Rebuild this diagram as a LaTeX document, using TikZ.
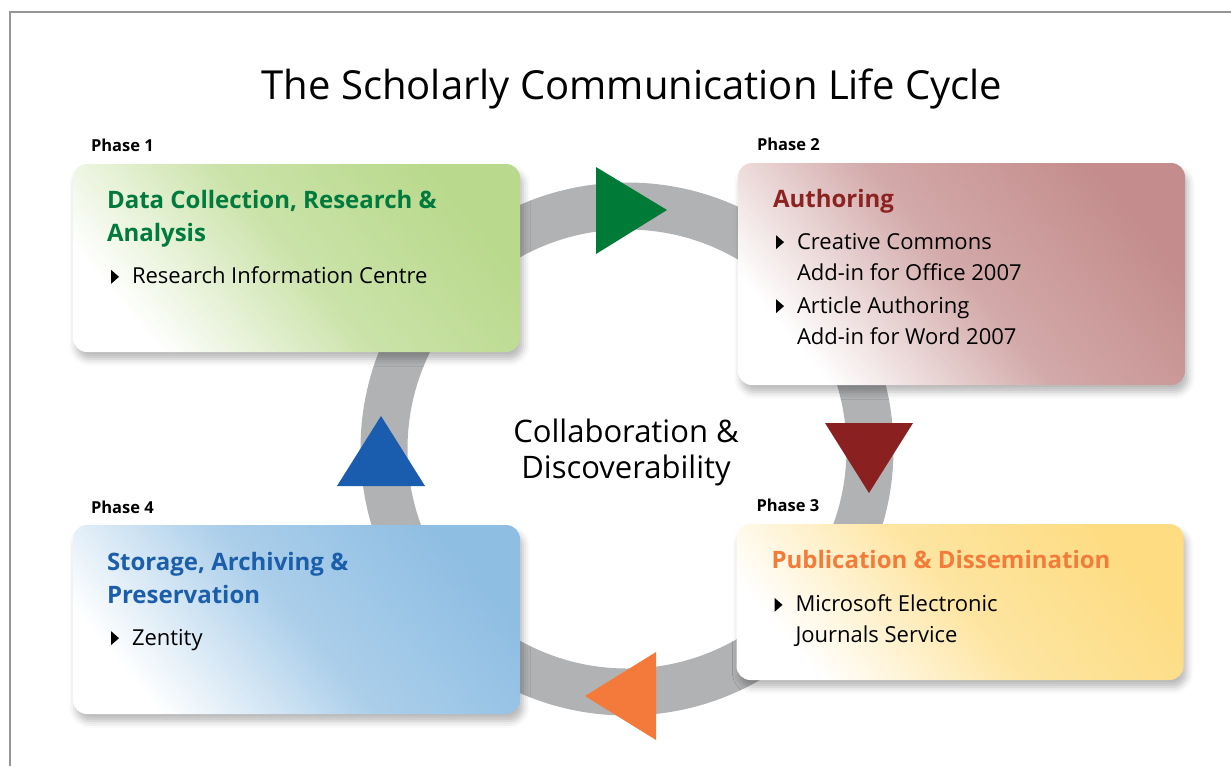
\documentclass[tikz,border=0pt]{standalone}
\usepackage{fontspec}
\setmainfont{Open Sans}
\usetikzlibrary{positioning,calc,shadows.blur}

\definecolor{boxgreen}{RGB}{185,217,140}
\definecolor{boxred}{RGB}{196,140,140}
\definecolor{boxyellow}{RGB}{253,220,130}
\definecolor{boxblue}{RGB}{143,190,227}
\definecolor{headgreen}{RGB}{0,122,61}
\definecolor{headred}{RGB}{140,35,35}
\definecolor{headorange}{RGB}{244,124,58}
\definecolor{headblue}{RGB}{27,94,170}
\definecolor{tipgreen}{RGB}{0,122,55}
\definecolor{tipred}{RGB}{139,32,32}
\definecolor{tiporange}{RGB}{244,122,60}
\definecolor{tipblue}{RGB}{26,92,173}
\definecolor{ringgray}{RGB}{177,178,180}
\definecolor{framegray}{RGB}{150,150,150}

\newsavebox\bulletbox
\sbox\bulletbox{\tikz\fill (0,0) -- (0,14pt) -- (8pt,7pt) -- cycle;}
\newcommand\itemmark{\usebox\bulletbox\hspace{13pt}}
\newcommand\itemgap{\hspace*{21pt}}

\tikzset{
  panel/.style={rounded corners=14pt, minimum width=447pt, inner sep=0pt,
    top color=white, bottom color=#1, middle color=#1!75, shading angle=130,
    blur shadow={shadow xshift=3pt, shadow yshift=-7pt,
      shadow blur radius=7pt, shadow opacity=28}},
  phase/.style={font=\bfseries\fontsize{16.5}{20}\selectfont, inner sep=0pt},
  head/.style={font=\bfseries\fontsize{24}{33}\selectfont, align=left, inner sep=0pt},
  items/.style={font=\fontsize{22}{31}\selectfont, align=left, inner sep=0pt},
  title/.style={font=\fontsize{40}{48}\selectfont},
  hubtext/.style={font=\fontsize{31}{36}\selectfont, align=center},
  ring/.style={draw=ringgray, line width=47pt},
  frame/.style={draw=framegray, line width=1.5pt}
}

\begin{document}
\begin{tikzpicture}[x=1pt,y=-1pt]
  \useasboundingbox (0,0) rectangle (1231,766);
  %% frame and title
  \draw[frame] (1231,12) -- (10,12) -- (10,766);
  \node[title] (title) at (632,89) {The Scholarly Communication Life Cycle};
  %% ring with its four arrowheads
  \coordinate (hub) at (627,449);
  \draw[ring] (hub) circle[radius=243pt];
  \fill[tipgreen]  (596,167) -- (667,210) -- (596,254) -- cycle;
  \fill[tipred]    (825,423) -- (913,423) -- (869,493) -- cycle;
  \fill[tiporange] (656,652) -- (656,740) -- (585,696) -- cycle;
  \fill[tipblue]   (337,486) -- (425,486) -- (381,416) -- cycle;
  \node[hubtext] (hubtext) at (626,452) {Collaboration \&\\Discoverability};
  %% phase 1
  \node[panel=boxgreen, minimum height=188pt] (collect) at (296.5,258) {};
  \node[phase, above right=12pt and 18pt of collect.north west] (ph1) {Phase 1};
  \node[head, text=headgreen, below right=26pt and 34pt of collect.north west] (h1)
    {Data Collection, Research \&\\Analysis};
  \node[items, below right=103pt and 38pt of collect.north west] (i1)
    {\itemmark Research Information Centre};
  %% phase 2
  \node[panel=boxred, minimum height=222pt] (author) at (961.5,274) {};
  \node[phase, above right=12pt and 19pt of author.north west] (ph2) {Phase 2};
  \node[head, text=headred, below right=26pt and 35pt of author.north west] (h2)
    {Authoring};
  \node[items, below right=70pt and 38pt of author.north west] (i2)
    {\itemmark Creative Commons\\\itemgap Add-in for Office 2007\\[2pt]
     \itemmark Article Authoring\\\itemgap Add-in for Word 2007};
  %% phase 3
  \node[panel=boxyellow, minimum height=156pt] (publish) at (960,602) {};
  \node[phase, above right=12pt and 20pt of publish.north west] (ph3) {Phase 3};
  \node[head, text=headorange, below right=26pt and 35pt of publish.north west] (h3)
    {Publication \& Dissemination};
  \node[items, below right=71pt and 38pt of publish.north west] (i3)
    {\itemmark Microsoft Electronic\\\itemgap Journals Service};
  %% phase 4
  \node[panel=boxblue, minimum height=189pt] (store) at (296.5,619.5) {};
  \node[phase, above right=11pt and 18pt of store.north west] (ph4) {Phase 4};
  \node[head, text=headblue, below right=27pt and 34pt of store.north west] (h4)
    {Storage, Archiving \&\\Preservation};
  \node[items, below right=104pt and 38pt of store.north west] (i4)
    {\itemmark Zentity};
\end{tikzpicture}
\end{document}
